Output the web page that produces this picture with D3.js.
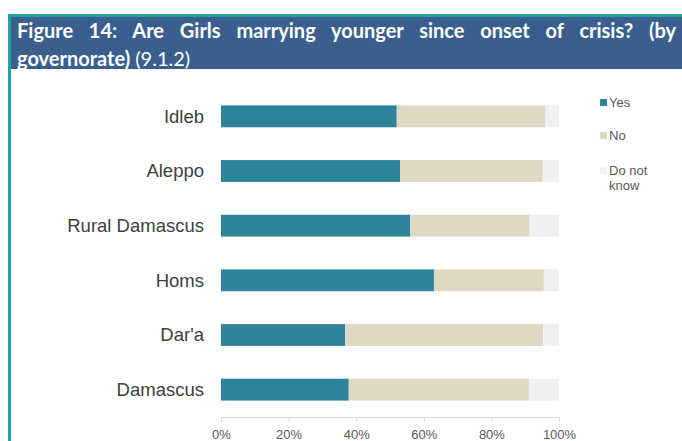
<!DOCTYPE html>
<html>
<head>
<meta charset="utf-8">
<script src="https://cdn.jsdelivr.net/npm/d3@7"></script>
<style>
  body { margin: 0; background: #fff; }
  #chart { position: relative; width: 682px; height: 441px; overflow: hidden; }
  .title {
    position: absolute; left: 17px; width: 659px;
    font-family: Lato, "Open Sans", sans-serif;
    font-size: 20px; line-height: 24px; color: #fff; white-space: nowrap;
  }
  .title.l1 { top: 18px; text-align: justify; text-align-last: justify; }
  .title.l2 { top: 46px; text-align: left; }
  .title b { font-weight: bold; }
</style>
</head>
<body>
<div id="chart"></div>
<script>
// governorates, top to bottom
var governorates = ["Idleb", "Aleppo", "Rural Damascus", "Homs", "Dar'a", "Damascus"];
// percent per answer
var yesVals = [52, 53, 56, 63, 36.7, 37.8];
var noVals = [44, 42.2, 35.3, 32.5, 58.6, 53.3];
var dkVals = [4, 4.8, 8.7, 4.5, 4.7, 8.9];
var seriesNames = ["Yes", "No", "Do not know"];
var tickVals = [0, 20, 40, 60, 80, 100];

var svgW = 682, svgH = 441;
var colors = ["#2e859a", "#ddd9c3", "#f0f0f0"];

var wrap = d3.select("#chart");
var svg = wrap.append("svg")
  .attr("width", svgW)
  .attr("height", svgH)
  .style("position", "absolute").style("left", 0).style("top", 0);

// frame: teal border + blue title band
svg.append("rect").attr("x", 11).attr("y", 17).attr("width", 671).attr("height", 52).attr("fill", "#3a5f8f");
svg.append("line").attr("x1", 8).attr("x2", 682).attr("y1", 15.5).attr("y2", 15.5)
  .attr("stroke", "#20a3a3").attr("stroke-width", 3);
svg.append("line").attr("x1", 9.5).attr("x2", 9.5).attr("y1", 14).attr("y2", 441)
  .attr("stroke", "#20a3a3").attr("stroke-width", 3);

wrap.append("div").attr("class", "title l1")
  .html("<b>Figure 14: Are Girls marrying younger since onset of crisis? (by</b>");
wrap.append("div").attr("class", "title l2")
  .html("<b>governorate)</b> (9.1.2)");

var margin = { left: 221, right: 123, top: 89, bottom: 24 };
var width = svgW - margin.left - margin.right;
var height = svgH - margin.top - margin.bottom;

var g = svg.append("g").attr("transform", `translate(${margin.left}, ${margin.top})`);

var x = d3.scaleLinear().domain([0, 100]).range([0, width]);
var y = d3.scaleBand().domain(governorates).range([0, height]).paddingInner(0.6).paddingOuter(0.3);

var rows = governorates.map((name, i) => ({ name: name, vals: [yesVals[i], noVals[i], dkVals[i]] }));
var stacked = d3.stack().keys([0, 1, 2]).value((d, k) => d.vals[k])(rows);

g.selectAll("g.series")
  .data(stacked)
  .enter().append("g")
  .attr("fill", (d, i) => colors[i])
  .selectAll("rect")
  .data(d => d)
  .enter().append("rect")
  .attr("x", d => x(d[0]))
  .attr("width", d => x(d[1]) - x(d[0]))
  .attr("y", d => y(d.data.name))
  .attr("height", y.bandwidth());

// category labels
g.selectAll("text.cat")
  .data(governorates)
  .enter().append("text")
  .attr("class", "cat")
  .attr("x", -17)
  .attr("y", d => y(d) + y.bandwidth() / 2)
  .attr("dy", "0.35em")
  .attr("text-anchor", "end")
  .attr("font-family", "Liberation Sans, Arial, sans-serif")
  .attr("font-size", "18.5px")
  .attr("fill", "#404040")
  .text(d => d);

// x axis
var axis = g.append("g")
  .attr("transform", `translate(0, ${height})`)
  .call(d3.axisBottom(x).tickValues(tickVals).tickFormat(d => d + "%").tickSize(5).tickPadding(8));
axis.selectAll("path, line").attr("stroke", "#d9d9d9");
axis.selectAll("text")
  .attr("font-family", "Liberation Sans, Arial, sans-serif")
  .attr("font-size", "13px")
  .attr("fill", "#595959");

// legend
var legY = [102, 135, 170];
var leg = svg.append("g").attr("font-family", "Liberation Sans, Arial, sans-serif").attr("font-size", "13px").attr("fill", "#595959");
seriesNames.forEach((s, i) => {
  leg.append("rect").attr("x", 600).attr("y", legY[i] - 3).attr("width", 7).attr("height", 7).attr("fill", colors[i]);
  var t = leg.append("text").attr("x", 609).attr("y", legY[i]).attr("dy", "0.35em");
  if (s === "Do not know") {
    t.append("tspan").attr("x", 609).text("Do not");
    t.append("tspan").attr("x", 609).attr("dy", "1.2em").text("know");
  } else {
    t.text(s);
  }
});
</script>
</body>
</html>
